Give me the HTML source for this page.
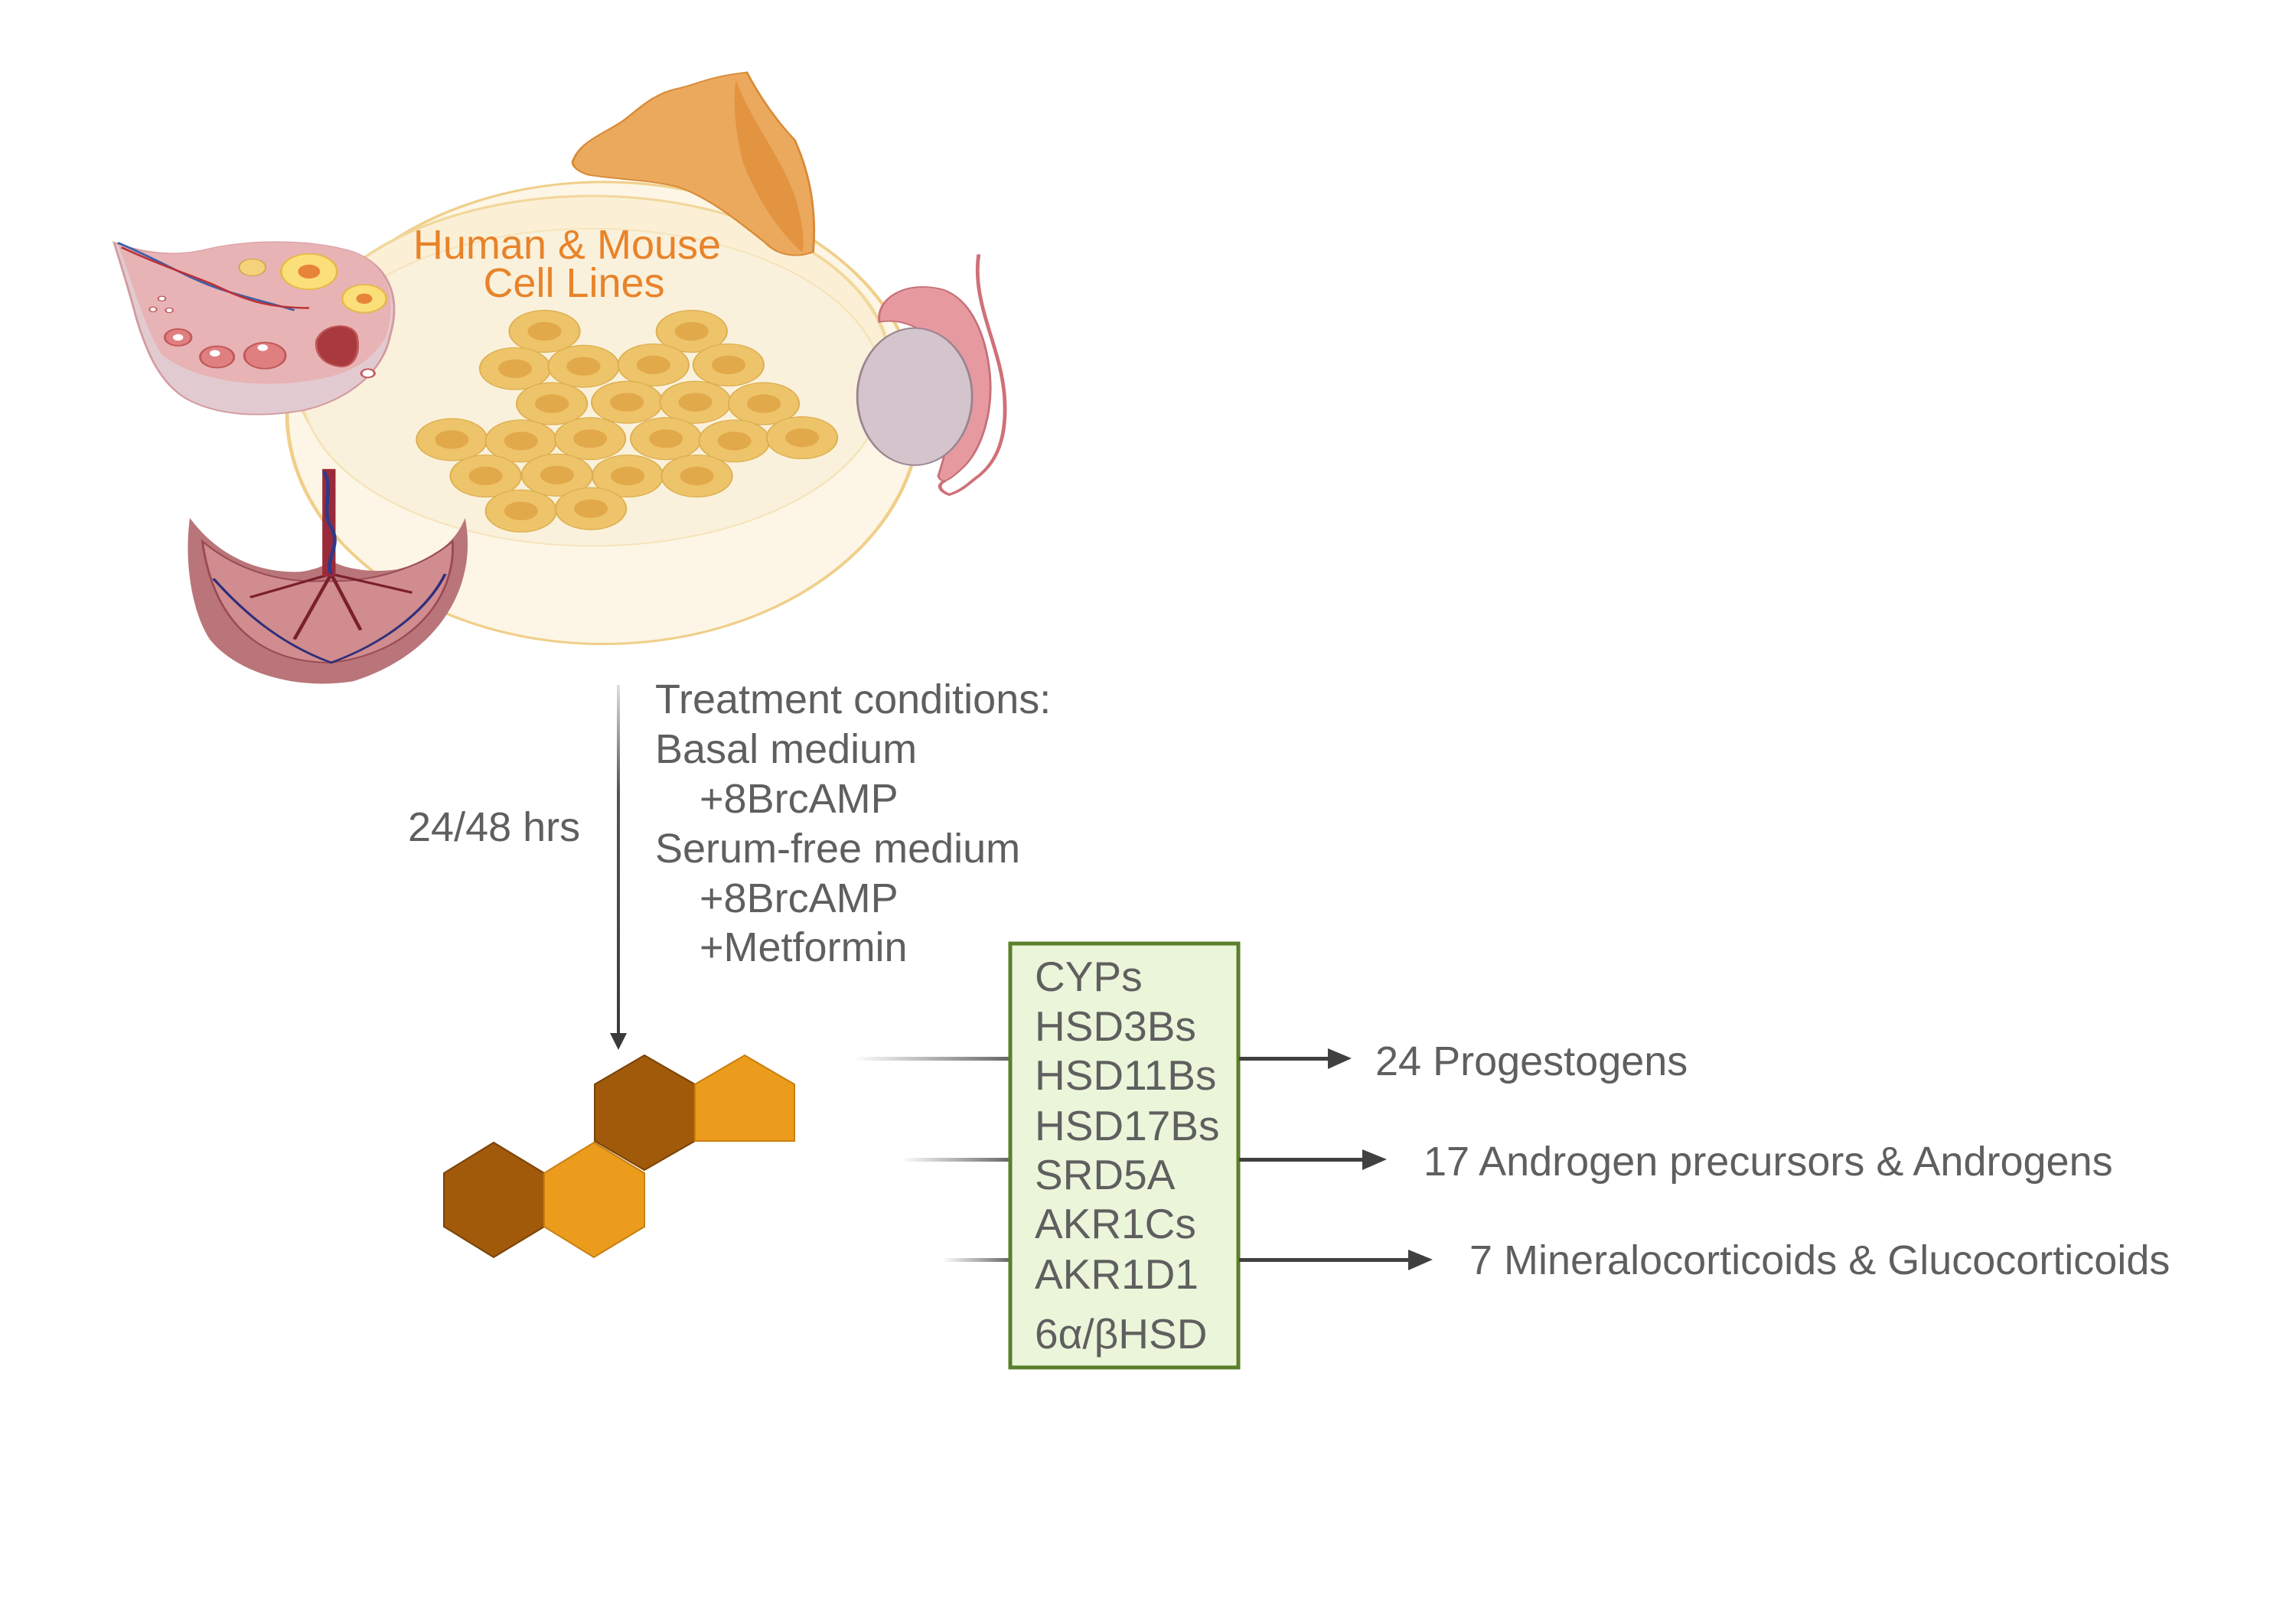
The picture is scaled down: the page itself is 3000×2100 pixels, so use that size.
<!DOCTYPE html>
<html><head><meta charset="utf-8"><style>
html,body{margin:0;padding:0;background:#fff}
svg{display:block}
text{font-family:"Liberation Sans",sans-serif}
</style></head><body>
<svg width="3000" height="2100" viewBox="0 0 3000 2100" xmlns="http://www.w3.org/2000/svg">
<defs>
<linearGradient id="vg" x1="0" y1="0" x2="0" y2="1"><stop offset="0" stop-color="#e0e0e0"/><stop offset="0.3" stop-color="#555"/><stop offset="1" stop-color="#3a3a3a"/></linearGradient>
<linearGradient id="hg" x1="0" y1="0" x2="1" y2="0"><stop offset="0" stop-color="#fff"/><stop offset="1" stop-color="#666"/></linearGradient>
<g id="cell"><ellipse rx="48" ry="45" fill="#eec46a" stroke="#dcae4e" stroke-width="2"/><ellipse rx="23" ry="20" fill="#e2a94a"/></g>
</defs>

<g transform="scale(0.9615,0.6098)">
 <ellipse cx="820" cy="885" rx="430" ry="495" fill="#fdf6e6" stroke="#f0cf8a" stroke-width="5"/>
 <ellipse cx="805" cy="790" rx="405" ry="370" fill="#fbf0d6" stroke="#f2d79c" stroke-width="5"/>
 <ellipse cx="805" cy="830" rx="395" ry="340" fill="#faf1dc" stroke="#f5e3b8" stroke-width="3"/>
 <path d="M780,340 C790,300 830,280 850,255 C870,230 890,200 920,190 C950,180 960,165 1015,155 C1030,200 1050,250 1080,300 C1100,370 1110,450 1105,540 C1080,555 1055,545 1040,520 C1000,470 960,420 920,400 C880,385 840,385 800,375 C780,365 775,350 780,340 Z" fill="#eba95e" stroke="#d98a35" stroke-width="3"/>
 <path d="M1000,170 C1020,260 1060,330 1080,420 C1090,470 1095,520 1090,540 C1060,500 1030,430 1010,350 C1000,290 995,220 1000,170 Z" fill="#e39440"/>
 <use href="#cell" x="740" y="710"/><use href="#cell" x="940" y="710"/>
 <use href="#cell" x="700" y="790"/><use href="#cell" x="793" y="785"/><use href="#cell" x="888" y="782"/><use href="#cell" x="990" y="782"/>
 <use href="#cell" x="750" y="865"/><use href="#cell" x="852" y="862"/><use href="#cell" x="945" y="862"/><use href="#cell" x="1038" y="865"/>
 <use href="#cell" x="614" y="942"/><use href="#cell" x="708" y="945"/><use href="#cell" x="802" y="940"/><use href="#cell" x="905" y="940"/><use href="#cell" x="998" y="945"/><use href="#cell" x="1090" y="938"/>
 <use href="#cell" x="660" y="1020"/><use href="#cell" x="757" y="1018"/><use href="#cell" x="853" y="1020"/><use href="#cell" x="947" y="1020"/>
 <use href="#cell" x="708" y="1095"/><use href="#cell" x="803" y="1090"/>
 <path d="M155,520 C200,545 240,550 280,535 C330,515 420,510 480,540 C530,570 545,640 530,720 C520,800 470,860 410,880 C350,895 300,890 260,860 C220,830 200,760 185,680 C175,620 165,570 155,520 Z" fill="#e2cbd0" stroke="#d49aa0" stroke-width="3"/>
 <path d="M160,525 C200,545 240,550 280,535 C330,515 420,510 480,540 C530,570 540,640 525,720 C500,790 460,810 400,820 C330,830 260,810 220,760 C195,700 180,600 160,525 Z" fill="#e8b3b5"/>
 <path d="M160,520 C220,560 260,600 300,620 C340,640 370,650 400,665" stroke="#3b5fa8" stroke-width="4" fill="none"/>
 <path d="M165,530 C220,570 260,590 290,610 C330,640 360,660 420,660" stroke="#b8323a" stroke-width="4" fill="none"/>
 <circle cx="420" cy="582" r="38" fill="#fbe07a" stroke="#e6b94a" stroke-width="3"/><circle cx="420" cy="582" r="15" fill="#e8843a"/>
 <circle cx="495" cy="640" r="30" fill="#fbe07a" stroke="#e6b94a" stroke-width="3"/><circle cx="495" cy="640" r="11" fill="#e8843a"/>
 <circle cx="343" cy="573" r="18" fill="#f4d27a" stroke="#cfa74a" stroke-width="2"/>
 <circle cx="242" cy="723" r="18" fill="#e07f80" stroke="#c0585a" stroke-width="3"/><circle cx="242" cy="723" r="7" fill="#fff"/>
 <circle cx="295" cy="765" r="23" fill="#e07f80" stroke="#c0585a" stroke-width="3"/><circle cx="292" cy="757" r="7" fill="#fff"/>
 <circle cx="360" cy="762" r="28" fill="#e07f80" stroke="#c0585a" stroke-width="3"/><circle cx="357" cy="745" r="7" fill="#fff"/>
 <path d="M430,730 C440,690 480,690 485,720 C490,760 480,790 460,785 C440,780 428,760 430,730 Z" fill="#a83a3e" stroke="#c0585a" stroke-width="3"/>
 <circle cx="500" cy="800" r="9" fill="#fff" stroke="#c0585a" stroke-width="3"/>
 <circle cx="220" cy="640" r="5" fill="#fff" stroke="#c0585a" stroke-width="2"/><circle cx="208" cy="663" r="5" fill="#fff" stroke="#c0585a" stroke-width="2"/><circle cx="230" cy="665" r="5" fill="#fff" stroke="#c0585a" stroke-width="2"/>
 <path d="M258,1110 C300,1200 360,1230 410,1225 C430,1220 445,1210 450,1200 C460,1215 500,1230 540,1220 C590,1200 620,1160 632,1110 C650,1250 600,1400 480,1460 C400,1480 320,1440 285,1370 C260,1310 250,1200 258,1110 Z" fill="#b97579"/>
 <path d="M275,1160 C320,1220 380,1250 440,1245 C500,1250 570,1220 615,1160 C620,1280 560,1400 450,1420 C350,1420 290,1330 275,1160 Z" fill="#d08c8e" stroke="#9a4a55" stroke-width="3"/>
 <path d="M290,1240 C330,1310 380,1380 450,1420 C520,1380 580,1310 605,1230" stroke="#2e2e7a" stroke-width="4" fill="none"/>
 <path d="M450,1230 L400,1370 M450,1230 L490,1350 M450,1230 L340,1280 M450,1230 L560,1270" stroke="#7a1f2c" stroke-width="5" fill="none"/>
 <rect x="438" y="1005" width="18" height="230" fill="#9a2a3a"/>
 <path d="M440,1010 C455,1050 435,1090 450,1130 C465,1170 440,1200 450,1230" stroke="#2e3a8a" stroke-width="5" fill="none"/>
 <path d="M1330,545 C1320,650 1360,740 1365,850 C1370,960 1345,1000 1330,1020 C1320,1030 1310,1050 1290,1060 C1280,1055 1270,1040 1285,1030" stroke="#d07078" stroke-width="5" fill="none"/>
 <path d="M1195,690 C1190,640 1230,600 1280,620 C1320,640 1340,720 1345,800 C1350,880 1335,960 1310,1000 C1290,1030 1280,1040 1275,1020 C1290,950 1300,850 1280,760 C1265,710 1230,680 1195,690 Z" fill="#e69aa0" stroke="#c8707a" stroke-width="3"/>
 <ellipse cx="1243" cy="850" rx="78" ry="147" fill="#d4c4cc" stroke="#9a8590" stroke-width="3"/>
</g>

<text x="741" y="338" font-size="54" fill="#e8832a" text-anchor="middle">Human &amp; Mouse</text>
<text x="750" y="388" font-size="54" fill="#e8832a" text-anchor="middle">Cell Lines</text>

<rect x="806" y="895" width="4" height="460" fill="url(#vg)"/>
<polygon points="797,1350 819,1350 808,1372" fill="#3a3a3a"/>

<g font-size="54" fill="#5f5f5f">
<text x="533" y="1099">24/48 hrs</text>
<text x="856" y="932">Treatment conditions:</text>
<text x="856" y="997">Basal medium</text>
<text x="914" y="1062">+8BrcAMP</text>
<text x="856" y="1127">Serum-free medium</text>
<text x="914" y="1192">+8BrcAMP</text>
<text x="914" y="1256">+Metformin</text>
</g>

<polygon points="842,1379 908,1417 908,1491 842,1529 777,1491 777,1417" fill="#a05a0a" stroke="#7a4206" stroke-width="2"/>
<polygon points="973,1379 1038,1417 1038,1491 908,1491 908,1417" fill="#ec9c1c" stroke="#c97e10" stroke-width="2"/>
<polygon points="645,1493 711,1533 711,1603 645,1643 580,1603 580,1533" fill="#a05a0a" stroke="#7a4206" stroke-width="2"/>
<polygon points="776,1493 842,1533 842,1603 776,1643 711,1603 711,1533" fill="#ec9c1c" stroke="#c97e10" stroke-width="2"/>

<rect x="1115" y="1381" width="206" height="5" fill="url(#hg)"/>
<rect x="1177" y="1513" width="144" height="5" fill="url(#hg)"/>
<rect x="1231" y="1644" width="90" height="5" fill="url(#hg)"/>

<rect x="1320" y="1233" width="298" height="554" fill="#eaf5da" stroke="#5a7f2a" stroke-width="5"/>
<g font-size="55" fill="#5f5f5f">
<text x="1352" y="1295">CYPs</text>
<text x="1352" y="1360">HSD3Bs</text>
<text x="1352" y="1424">HSD11Bs</text>
<text x="1352" y="1490">HSD17Bs</text>
<text x="1352" y="1554">SRD5A</text>
<text x="1352" y="1618">AKR1Cs</text>
<text x="1352" y="1684">AKR1D1</text>
<text x="1352" y="1762">6α/βHSD</text>
</g>

<rect x="1619" y="1381" width="120" height="5" fill="#404040"/><polygon points="1735,1370 1766,1383 1735,1397" fill="#404040"/>
<rect x="1619" y="1513" width="165" height="5" fill="#404040"/><polygon points="1780,1502 1812,1515 1780,1529" fill="#404040"/>
<rect x="1619" y="1644" width="225" height="5" fill="#404040"/><polygon points="1840,1633 1872,1646 1840,1660" fill="#404040"/>
<g font-size="54" fill="#5f5f5f">
<text x="1797" y="1405">24 Progestogens</text>
<text x="1860" y="1536">17 Androgen precursors &amp; Androgens</text>
<text x="1920" y="1665">7 Mineralocorticoids &amp; Glucocorticoids</text>
</g>
</svg>
</body></html>
